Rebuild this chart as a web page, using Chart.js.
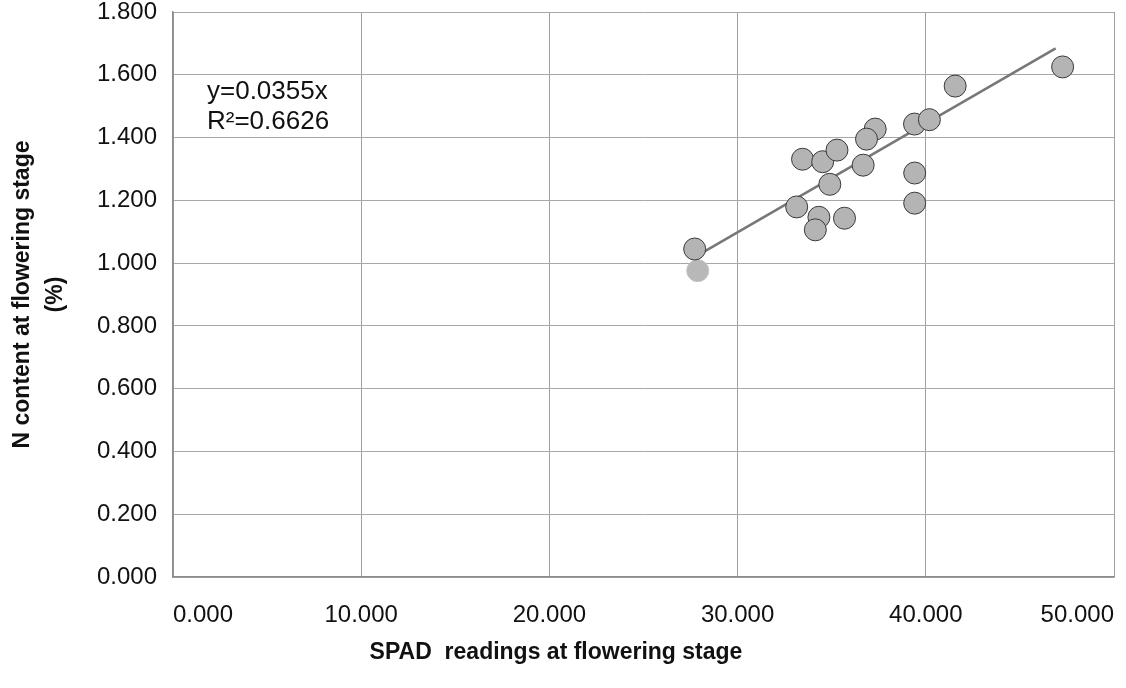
<!DOCTYPE html>
<html>
<head>
<meta charset="utf-8">
<style>
html,body{margin:0;padding:0;background:#fff;}
#wrap{width:1126px;height:688px;}
</style>
<script src="https://cdn.jsdelivr.net/npm/chart.js@4/dist/chart.umd.min.js"></script>
</head>
<body>
<div id="wrap"><canvas id="c" width="1126" height="688"></canvas></div>
<script>
// SPAD readings (x) and N content (y)
const spadValues = [27.72, 33.14, 33.45, 34.52, 35.28, 34.32, 34.13, 34.90, 35.68, 36.67, 37.31, 36.85, 39.40, 40.19, 39.41, 39.41, 41.56, 47.27];
const nValues    = [1.045, 1.179, 1.331, 1.323, 1.360, 1.146, 1.106, 1.251, 1.143, 1.312, 1.427, 1.395, 1.443, 1.457, 1.287, 1.191, 1.564, 1.625];
// one faint point (no outline) in the reference
const faintSpad = [27.88];
const faintN    = [0.976];
// trend line end points as drawn
const trendSpad = [28.2, 46.9];
const trendN    = [1.036, 1.684];
// axis ticks
const xTicks = [0, 10, 20, 30, 40, 50];
const yTicks = [0, 0.2, 0.4, 0.6, 0.8, 1.0, 1.2, 1.4, 1.6, 1.8];
const eqLines = ['y=0.0355x', 'R\u00B2=0.6626'];
const xTitle = 'SPAD  readings at flowering stage';
const yTitle = ['N content at flowering stage', '(%)'];

const FONT = '"Liberation Sans", Arial, Helvetica, sans-serif';
const toPts = (xs, ys) => xs.map((x, i) => ({x: x, y: ys[i]}));
const zeroPad = s => { s.paddingTop = 0; s.paddingBottom = 0; s.paddingLeft = 0; s.paddingRight = 0; };

const textPlugin = {
  id: 'texts',
  afterDraw(chart) {
    const ctx = chart.ctx;
    ctx.save();
    ctx.fillStyle = '#111';
    ctx.font = '26px ' + FONT;
    ctx.textAlign = 'left';
    ctx.textBaseline = 'middle';
    ctx.fillText(eqLines[0], 207, 92);
    ctx.fillText(eqLines[1], 207, 122);
    ctx.font = 'bold 23px ' + FONT;
    ctx.textAlign = 'center';
    ctx.fillText(xTitle, 556, 653);
    ctx.restore();
  }
};

new Chart(document.getElementById('c'), {
  type: 'scatter',
  data: {
    datasets: [
      {
        label: 'N content',
        data: toPts(spadValues, nValues),
        backgroundColor: '#b4b4b4',
        borderColor: '#3a3a3a',
        borderWidth: 1,
        pointRadius: 11,
        pointHoverRadius: 11,
        order: 1
      },
      {
        label: 'faint',
        data: toPts(faintSpad, faintN),
        backgroundColor: '#b8b8b8',
        borderColor: '#c4c4c4',
        borderWidth: 1,
        pointRadius: 11,
        order: 2
      },
      {
        label: 'trend',
        type: 'line',
        data: toPts(trendSpad, trendN),
        borderColor: '#777777',
        borderWidth: 2.5,
        pointRadius: 0,
        fill: false,
        showLine: true,
        order: 3
      }
    ]
  },
  options: {
    responsive: false,
    animation: false,
    devicePixelRatio: 1,
    layout: {padding: {left: 0, right: 7, top: 12, bottom: 0}},
    plugins: {legend: {display: false}, tooltip: {enabled: false}},
    scales: {
      x: {
        type: 'linear',
        min: 0, max: 50,
        afterBuildTicks: s => { s.ticks = xTicks.map(v => ({value: v})); },
        afterFit: s => { s.height = 111; zeroPad(s); },
        grid: {color: '#a0a0a0', lineWidth: 1, drawTicks: false},
        border: {color: '#8c8c8c', width: 1.5},
        ticks: {
          align: 'inner',
          padding: 24,
          color: '#111',
          font: {family: FONT, size: 24},
          callback: v => v.toFixed(3)
        },
        title: {display: false}
      },
      y: {
        type: 'linear',
        min: 0, max: 1.8,
        afterBuildTicks: s => { s.ticks = yTicks.map(v => ({value: v})); },
        afterFit: s => { s.width = 173; zeroPad(s); },
        grid: {color: '#a8a8a8', lineWidth: 1, drawTicks: false},
        border: {color: '#8c8c8c', width: 1.5},
        ticks: {
          padding: 16,
          color: '#111',
          font: {family: FONT, size: 24},
          callback: v => v.toFixed(3)
        },
        title: {
          display: true,
          text: yTitle,
          color: '#111',
          font: {family: FONT, size: 23, weight: 'bold', lineHeight: 1.45},
          padding: {top: 6, bottom: 0}
        }
      }
    }
  },
  plugins: [textPlugin]
});
</script>
</body>
</html>
